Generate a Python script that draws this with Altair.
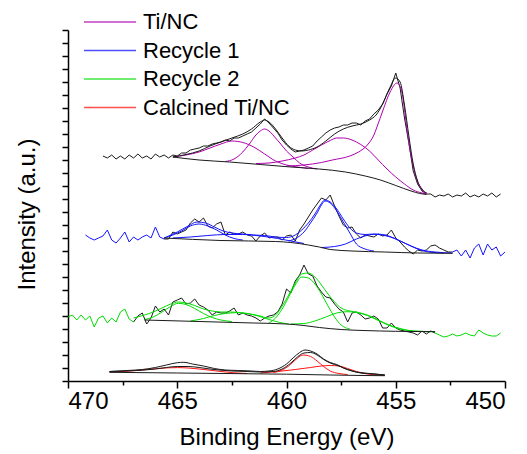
import altair as alt
import pandas as pd

FONT = "Liberation Sans, Arial, sans-serif"
SERIES = ["Ti/NC", "Recycle 1", "Recycle 2", "Calcined Ti/NC"]
COLORS = ["#b000b0", "#1414ff", "#00dd00", "#ff1414"]

# energy grid of the measured spectra (eV)
E_GRID = [470.0, 469.8, 469.6, 469.4, 469.2, 469.0, 468.8, 468.6, 468.4, 468.2,
          468.0, 467.8, 467.6, 467.4, 467.2, 467.0, 466.8, 466.6, 466.4, 466.2,
          466.0, 465.8, 465.6, 465.4, 465.2, 465.0, 464.8, 464.6, 464.4, 464.2,
          464.0, 463.8, 463.6, 463.4, 463.2, 463.0, 462.8, 462.6, 462.4, 462.2,
          462.0, 461.8, 461.6, 461.4, 461.2, 461.0, 460.8, 460.6, 460.4, 460.2,
          460.0, 459.8, 459.6, 459.4, 459.2, 459.0, 458.8, 458.6, 458.4, 458.2,
          458.0, 457.8, 457.6, 457.4, 457.2, 457.0, 456.8, 456.6, 456.4, 456.2,
          456.0, 455.8, 455.6, 455.4, 455.2, 455.0, 454.8, 454.6, 454.4, 454.2,
          454.0, 453.8, 453.6, 453.4, 453.2, 453.0, 452.8, 452.6, 452.4, 452.2,
          452.0, 451.8, 451.6, 451.4, 451.2, 451.0, 450.8, 450.6, 450.4, 450.2,
          450.0]

# ---------------- Ti/NC ----------------
TI_START = 8
TI_RAW = [225, 223, 226, 222, 225, 222, 226, 223, 227, 223,
          225, 222, 227, 224, 226, 223, 226, 225, 228, 228,
          231, 232, 233, 235, 235, 237, 238, 239, 241, 240,
          243, 243, 245, 247, 249, 253, 257, 262, 258, 253,
          248, 241, 236, 232, 229, 230, 231, 233, 235, 240,
          244, 248, 251, 253, 254, 256, 256, 258, 258, 256,
          260, 262, 267, 271, 277, 287, 295, 308, 293, 263,
          238, 210, 197, 190, 187, 187, 184, 186, 185, 187,
          184, 186, 185, 188, 184, 186, 184, 187, 185, 188,
          184, 187]
TI_BG_E = [465.2, 464.0, 462.6, 461.2, 459.8, 458.5, 457.3, 456.4, 455.7, 455.0, 454.3, 453.9, 453.6]
TI_BG_I = [224, 221, 219, 216.5, 214, 212, 209, 205, 201, 195.5, 190, 187.5, 186.5]
TI_A_E = [465.2, 464.6, 464.0, 463.5, 463.0, 462.5, 462.0, 461.5, 461.0, 460.5, 460.0, 459.5, 459.0]
TI_A_I = [224, 226, 229, 233, 237, 240, 238.5, 234, 227, 220, 216, 214, 212.5]
TI_B_E = [462.8, 462.4, 462.0, 461.7, 461.4, 461.2, 461.0, 460.8, 460.5, 460.3, 460.0, 459.7, 459.4, 459.0, 458.6]
TI_B_I = [219.5, 222, 229, 237, 246, 250, 252, 250, 243, 238, 230, 224, 218, 214, 212]
TI_C_E = [461.4, 460.8, 460.2, 459.6, 459.2, 458.8, 458.4, 458.0, 457.7, 457.4, 457.0, 456.6, 456.2,
          455.8, 455.4, 455.0, 454.6, 454.2, 453.8, 453.6]
TI_C_I = [217.5, 218, 220, 223, 226, 231, 236, 240.5, 243, 243, 241, 236.5, 230,
          221, 212, 204, 197, 191, 188, 187]
TI_D_E = [460.0, 459.2, 458.4, 457.9, 457.1, 456.7, 456.3, 456.0, 455.86, 455.58, 455.26, 454.94,
          454.71, 454.58, 454.44, 454.26, 454.03, 453.8, 453.57]
TI_D_I = [215, 216, 218.5, 221, 225, 229, 236, 246, 254, 271, 289, 298,
          288, 268, 244, 221, 201, 191, 188]
TI_ENV_E = [465.2, 464.6, 464.0, 463.5, 463.0, 462.5, 462.0, 461.6, 461.2, 461.0,
            460.8, 460.5, 460.2, 459.9, 459.6, 459.3, 459.0, 458.6, 458.2, 457.8,
            457.4, 457.0, 456.6, 456.2, 455.9, 455.6, 455.3, 455.0, 454.8, 454.6,
            454.4, 454.2, 454.0, 453.8, 453.6]
TI_ENV_I = [224, 226.5, 230, 235, 239, 243, 247, 252, 259, 261,
            259, 252, 243, 235, 231, 230, 231, 234, 240, 247,
            252, 255, 257, 261, 266, 277, 292, 303, 299, 276,
            245, 217, 200, 192, 188]

# ---------------- Recycle 1 ----------------
R1_START = 4
R1_FIT = (465.6, 452.4)
R1_RAW = [146, 143, 141, 143, 145, 151, 141, 138, 143, 149,
          139, 144, 141, 144, 146, 143, 154, 144, 142, 142,
          149, 147, 149, 151, 158, 162, 159, 163, 155, 153,
          157, 159, 146, 149, 147, 147, 149, 146, 145, 140,
          145, 148, 143, 144, 144, 141, 145, 146, 140, 151,
          157, 164, 171, 177, 183, 181, 186, 175, 165, 156,
          153, 154, 147, 143, 146, 145, 144, 147, 145, 146,
          151, 143, 139, 134, 130, 127, 131, 130, 131, 135,
          136, 133, 131, 129, 129, 131, 125, 131, 123, 133,
          137, 126, 137, 131, 134, 125, 129]
R1_BG_E = [465.6, 463.0, 460.5, 459.8, 459.0, 458.5, 458.0, 457.0, 455.5, 454.0, 452.4]
R1_BG_I = [143, 140.5, 139.5, 138.5, 136, 134, 131.5, 130, 129, 128, 127.7]
R1_C1_E = [465.6, 465.2, 464.8, 464.4, 464.0, 463.6, 463.2, 462.8, 462.4, 462.0]
R1_C1_I = [143, 146, 150, 155, 157, 155, 151, 146, 142.5, 141]
R1_C2_E = [465.2, 464.4, 463.6, 462.8, 462.0, 461.2, 460.4, 459.8, 459.2]
R1_C2_I = [143, 144, 145.5, 146.5, 146.5, 145, 142.5, 140, 137.5]
R1_C3_E = [459.9, 459.5, 459.2, 458.9, 458.6, 458.4, 458.24, 458.0, 457.7, 457.4, 457.1, 456.8, 456.4, 456.0]
R1_C3_I = [140, 143.5, 149, 158, 168, 176, 180, 178, 170, 159, 148, 137, 132, 130]
R1_C4_E = [458.4, 457.8, 457.3, 456.8, 456.3, 455.95, 455.5, 455.0, 454.5, 454.0, 453.5, 452.8]
R1_C4_I = [133.5, 134.5, 137, 142, 145.7, 146.7, 145.5, 142, 137, 132, 129, 128]
R1_ENV_E = [465.6, 465.0, 464.5, 464.1, 463.7, 463.3, 462.9, 462.5, 462.0, 461.5,
            461.0, 460.5, 460.0, 459.6, 459.3, 459.0, 458.7, 458.45, 458.25, 458.0,
            457.7, 457.4, 457.1, 456.8, 456.4, 456.0, 455.6, 455.2, 454.8, 454.3,
            453.8, 453.2, 452.4]
R1_ENV_I = [143, 149, 155, 159, 158, 154, 150, 148, 147, 146,
            145.5, 144, 143.5, 146, 151, 158, 167, 176, 181, 179,
            172, 162, 153, 148, 146.5, 147, 146.5, 144, 140, 135,
            131, 129, 128]

# ---------------- Recycle 2 ----------------
R2_START = 0
R2_FIT = (467.0, 453.2)
R2_RAW = [64, 66, 61, 66, 61, 65, 54, 63, 65, 58,
          63, 59, 69, 72, 62, 59, 65, 68, 57, 63,
          75, 69, 72, 66, 79, 81, 83, 77, 78, 82,
          76, 74, 71, 66, 69, 68, 68, 70, 73, 66,
          68, 66, 65, 63, 60, 63, 65, 66, 69, 77,
          92, 88, 100, 106, 116, 107, 105, 95, 89, 84,
          83, 77, 72, 69, 59, 68, 69, 66, 62, 63,
          65, 62, 53, 53, 58, 53, 51, 50, 49, 48,
          46, 50, 47, 50, 48, 46, 44, 45, 47, 45,
          46, 48, 46, 45, 51, 48, 46, 45, 45, 48]
R2_BG_E = [466.5, 464.0, 461.5, 460.0, 459.2, 458.5, 457.5, 456.5, 455.0, 453.2]
R2_BG_I = [61, 59.5, 58, 57, 55.5, 53.5, 51.5, 50.5, 49.7, 49.3]
R2_C1_E = [466.5, 466.1, 465.7, 465.3, 464.95, 464.6, 464.2, 463.8, 463.4, 463.0, 462.5]
R2_C1_I = [61.5, 64, 69, 74.5, 77.7, 76.5, 72.5, 67.5, 63.5, 61, 59.5]
R2_C2_E = [464.4, 463.8, 463.3, 462.8, 462.3, 461.8, 461.3, 460.8, 460.3, 459.9]
R2_C2_I = [60, 62.5, 65.5, 67.5, 68.3, 67.5, 65, 61.5, 58.5, 57]
R2_C3_E = [460.8, 460.5, 460.2, 459.9, 459.6, 459.3, 459.0, 458.7, 458.4, 458.1, 457.8, 457.5, 457.1]
R2_C3_I = [58, 63, 72, 84, 96, 104, 103, 97, 87, 75, 64, 56, 52]
R2_C4_E = [459.8, 459.2, 458.7, 458.2, 457.7, 457.25, 456.8, 456.3, 455.8, 455.3, 454.8, 454.2, 453.5]
R2_C4_I = [57, 57.5, 60, 64, 68, 69.3, 68.5, 65.5, 60.5, 55.5, 52, 50, 49.3]
R2_ENV_E = [467.0, 466.5, 466.1, 465.7, 465.3, 464.95, 464.6, 464.2, 463.8, 463.4,
            463.0, 462.6, 462.2, 461.8, 461.3, 460.8, 460.5, 460.2, 459.9, 459.6,
            459.3, 459.0, 458.7, 458.4, 458.1, 457.8, 457.5, 457.1, 456.7, 456.3,
            455.8, 455.3, 454.8, 454.2, 453.2]
R2_ENV_I = [63, 66, 69, 73, 77, 79, 78, 75.5, 72, 70,
            69, 69, 68.5, 67.5, 65.5, 63, 66, 75, 86, 98,
            107, 108, 104, 96, 87, 79, 73, 70, 68.5, 66,
            61, 56, 52.5, 50, 49.3]

# ---------------- Calcined Ti/NC ----------------
CA_BG_E = [468.1, 465.0, 462.0, 460.0, 458.0, 456.5, 455.5]
CA_BG_I = [8.7, 8, 7.3, 6.8, 6, 5.5, 5.3]
CA_ENV_E = [468.1, 467.3, 466.6, 466.0, 465.5, 465.0, 464.7, 464.3, 463.8, 463.3,
            462.8, 462.2, 461.6, 461.2, 460.8, 460.4, 460.0, 459.7, 459.4, 459.15,
            458.9, 458.6, 458.3, 458.0, 457.7, 457.4, 457.0, 456.6, 456.0, 455.5]
CA_ENV_I = [9.5, 10.5, 11.5, 13.5, 16, 18.3, 18.7, 17, 15, 12.5,
            11, 10.5, 10, 9.5, 10, 12, 17, 23, 28.5, 31,
            30, 27, 22, 18.5, 16.5, 13, 10, 8, 7, 6]
CA_SM_E = [468.1, 467.3, 466.6, 466.0, 465.5, 465.0, 464.5, 464.0, 463.5, 463.0,
           462.5, 461.8, 461.2, 460.6, 460.2, 459.8, 459.5, 459.2, 458.9, 458.6,
           458.3, 458.0, 457.6, 457.2, 456.8, 456.2, 455.5]
CA_SM_I = [9.5, 10, 10.8, 12, 13.5, 14.5, 14.5, 13.5, 12, 10.8,
           10, 9.5, 9, 9.5, 12, 18, 24, 28, 28.5, 26,
           21.5, 18, 15, 11.5, 9, 7.5, 6]
CA_A_E = [468.1, 467.3, 466.6, 466.0, 465.4, 465.0, 464.5, 464.0, 463.5, 463.0, 462.4, 461.8]
CA_A_I = [9, 9.8, 11, 12.3, 13.2, 13.4, 13, 12, 10.8, 9.5, 8.2, 7.5]
CA_C_E = [460.6, 460.2, 459.9, 459.6, 459.24, 458.9, 458.6, 458.3, 458.0, 457.6, 457.2]
CA_C_I = [8.5, 11, 15, 21, 26, 24.5, 20, 14.5, 10, 7.5, 6.5]
CA_D_E = [461.2, 460.4, 459.6, 458.9, 458.4, 458.0, 457.6, 457.2, 456.8, 456.3, 455.8, 455.5]
CA_D_I = [8, 9.5, 11.5, 13.5, 15, 15.5, 15, 12.5, 9.5, 7, 6, 5.5]

# ---------------- build table ----------------
rows = []


def add(series, curve, E, I, layer):
    for e, i in zip(E, I):
        rows.append(dict(series=series, curve=curve, E=e, I=i, layer=layer))


def add_raw(series, start, I, fit):
    E = E_GRID[start:start + len(I)]
    if fit is None:
        add(series, series + " raw", E, I, "black_raw")
        return
    hi, lo = fit
    pts = list(zip(E, I))
    left = [p for p in pts if p[0] >= hi]
    mid = [p for p in pts if hi >= p[0] >= lo]
    right = [p for p in pts if p[0] <= lo]
    add(series, series + " tailL", [p[0] for p in left], [p[1] for p in left], "color_raw")
    add(series, series + " tailR", [p[0] for p in right], [p[1] for p in right], "color_raw")
    add(series, series + " raw", [p[0] for p in mid], [p[1] for p in mid], "black_raw")


add_raw("Ti/NC", TI_START, TI_RAW, None)
add_raw("Recycle 1", R1_START, R1_RAW, R1_FIT)
add_raw("Recycle 2", R2_START, R2_RAW, R2_FIT)

add("Ti/NC", "ti A", TI_A_E, TI_A_I, "color_fit")
add("Ti/NC", "ti B", TI_B_E, TI_B_I, "color_fit")
add("Ti/NC", "ti C", TI_C_E, TI_C_I, "color_fit")
add("Ti/NC", "ti D", TI_D_E, TI_D_I, "color_fit")
add("Ti/NC", "ti bg", TI_BG_E, TI_BG_I, "black_fit")
add("Ti/NC", "ti env", TI_ENV_E, TI_ENV_I, "black_fit")

add("Recycle 1", "r1 c1", R1_C1_E, R1_C1_I, "color_fit")
add("Recycle 1", "r1 c2", R1_C2_E, R1_C2_I, "color_fit")
add("Recycle 1", "r1 c3", R1_C3_E, R1_C3_I, "color_fit")
add("Recycle 1", "r1 c4", R1_C4_E, R1_C4_I, "color_fit")
add("Recycle 1", "r1 env", R1_ENV_E, R1_ENV_I, "color_fit")
add("Recycle 1", "r1 bg", R1_BG_E, R1_BG_I, "black_fit")

add("Recycle 2", "r2 c1", R2_C1_E, R2_C1_I, "color_fit")
add("Recycle 2", "r2 c2", R2_C2_E, R2_C2_I, "color_fit")
add("Recycle 2", "r2 c3", R2_C3_E, R2_C3_I, "color_fit")
add("Recycle 2", "r2 c4", R2_C4_E, R2_C4_I, "color_fit")
add("Recycle 2", "r2 env", R2_ENV_E, R2_ENV_I, "color_fit")
add("Recycle 2", "r2 bg", R2_BG_E, R2_BG_I, "black_fit")

add("Calcined Ti/NC", "ca a", CA_A_E, CA_A_I, "color_fit")
add("Calcined Ti/NC", "ca c", CA_C_E, CA_C_I, "color_fit")
add("Calcined Ti/NC", "ca d", CA_D_E, CA_D_I, "color_fit")
add("Calcined Ti/NC", "ca bg", CA_BG_E, CA_BG_I, "black_fit")
add("Calcined Ti/NC", "ca env", CA_ENV_E, CA_ENV_I, "black_fit")
add("Calcined Ti/NC", "ca sm", CA_SM_E, CA_SM_I, "black_fit")

df = pd.DataFrame(rows)

color_scale = alt.Scale(domain=SERIES, range=COLORS)
x_scale = alt.Scale(domain=[450, 470], reverse=True, nice=False, zero=False)
y_scale = alt.Scale(domain=[0, 351], nice=False, zero=False)

x_major = alt.Axis(values=[470, 465, 460, 455, 450], tickSize=7, tickWidth=1.5,
                   domainWidth=1.5, labelFontSize=24, labelPadding=1, format="d",
                   title="Binding Energy (eV)", titleFontSize=24, titlePadding=12,
                   grid=False, orient="bottom")
x_minor = alt.Axis(values=[467.5, 462.5, 457.5, 452.5], tickSize=4, tickWidth=1.5,
                   labels=False, domain=False, title=None, grid=False, orient="bottom")
y_axis = alt.Axis(values=list(range(0, 352, 13)), tickSize=6, tickWidth=1.5,
                  domainWidth=1.5, labels=False, title="Intensity (a.u.)",
                  titleFontSize=24, titlePadding=22, titleY=184, grid=False, orient="left")

base = alt.Chart(df)


def xenc(axis):
    return alt.X("E:Q", scale=x_scale, axis=axis)


yenc = alt.Y("I:Q", scale=y_scale, axis=y_axis)

black_raw = base.transform_filter(alt.datum.layer == "black_raw").mark_line(
    strokeWidth=1, color="#1a1a1a").encode(
    x=xenc(x_major), y=yenc, detail="curve:N")
color_fit = base.transform_filter(alt.datum.layer == "color_fit").mark_line(
    strokeWidth=1, interpolate="monotone").encode(
    x=xenc(None), y=yenc, detail="curve:N",
    color=alt.Color("series:N", scale=color_scale, legend=None))
color_raw = base.transform_filter(alt.datum.layer == "color_raw").mark_line(
    strokeWidth=1).encode(
    x=xenc(None), y=yenc, detail="curve:N",
    color=alt.Color("series:N", scale=color_scale, legend=None))
black_fit = base.transform_filter(alt.datum.layer == "black_fit").mark_line(
    strokeWidth=1, interpolate="monotone", color="#1a1a1a").encode(
    x=xenc(x_minor), y=yenc, detail="curve:N")

main = alt.layer(black_raw, color_fit, color_raw, black_fit).resolve_axis(x="independent")

# legend table built from the series names and their colours
leg_df = pd.DataFrame({"series": SERIES, "col": COLORS})
leg_y = alt.Y("series:N", scale=alt.Scale(type="point", domain=SERIES, range=[-8, 77.5], padding=0),
              axis=None)
leg_rule = alt.Chart(leg_df).mark_rule(strokeWidth=1.5, opacity=0.75).encode(
    x=alt.value(16), x2=alt.value(68), y=leg_y,
    color=alt.Color("col:N", scale=None, legend=None))
leg_text = alt.Chart(leg_df).mark_text(align="left", baseline="middle", fontSize=22,
                                       font=FONT, color="black").encode(
    x=alt.value(75), y=leg_y, text="series:N")

chart = alt.layer(main, leg_rule, leg_text).resolve_scale(
    y="independent", color="independent").properties(
    width=437, height=351,
    autosize=alt.AutoSizeParams(type="none"),
    padding={"left": 68, "top": 30, "right": 22, "bottom": 73},
).configure_view(stroke=None).configure_axis(
    domainColor="black", tickColor="black", labelColor="black", titleColor="black",
    labelFont=FONT, titleFont=FONT, titleFontWeight="normal")

chart.save("out.html", embed_options={"renderer": "svg", "actions": False})
